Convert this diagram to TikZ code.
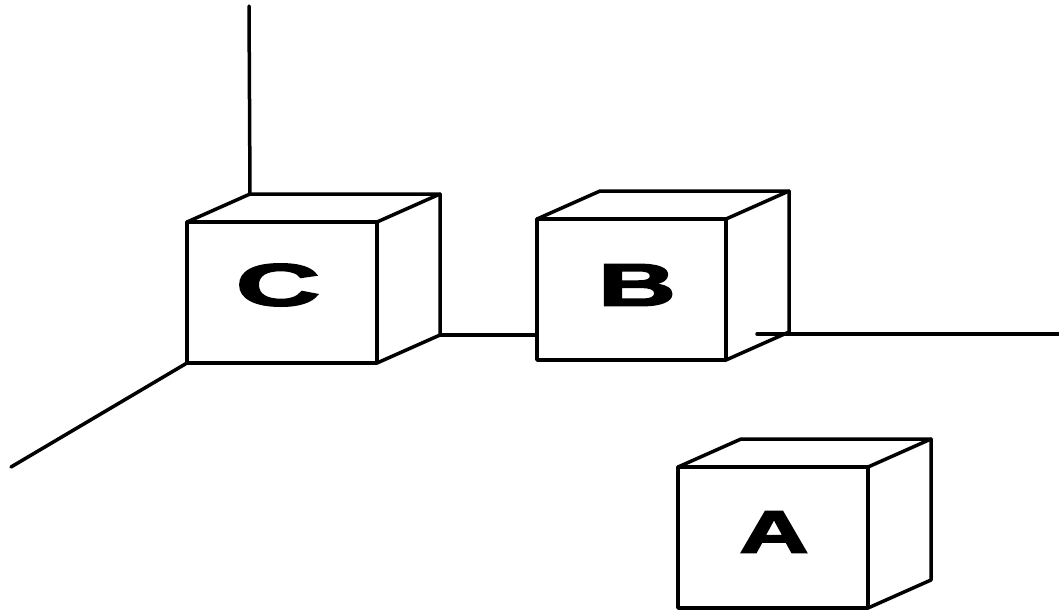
\documentclass[tikz,border=0pt]{standalone}
\usepackage{fontspec}
\setmainfont{Liberation Sans}
\newfontfamily\heavyfont[FakeBold=2.5]{Liberation Sans Bold}
\tikzset{
  edge/.style={line width=3.5pt, line join=round, line cap=round},
  letter/.style={font=\fontsize{60}{60}\selectfont\heavyfont, inner sep=0pt}
}
\newcommand{\cubebox}[5]{% name, x, y (front top-left), w, h
  \coordinate (#1ftl) at (#2,#3);
  \coordinate (#1ftr) at ({#2+#4},#3);
  \coordinate (#1fbr) at ({#2+#4},{#3+#5});
  \coordinate (#1fbl) at (#2,{#3+#5});
  \coordinate (#1btl) at ({#2+63},{#3-28});
  \coordinate (#1btr) at ({#2+#4+63},{#3-28});
  \coordinate (#1bbr) at ({#2+#4+63},{#3+#5-28});
  \draw[edge] (#1ftl) -- (#1ftr) -- (#1fbr) -- (#1fbl) -- cycle;
  \draw[edge] (#1ftl) -- (#1btl) -- (#1btr) -- (#1ftr);
  \draw[edge] (#1btr) -- (#1bbr) -- (#1fbr);
}
\begin{document}
\begin{tikzpicture}[x=1pt,y=-1pt]
\useasboundingbox (0,0) rectangle (1059,613);
% cubes
\cubebox{c}{187}{222}{190}{141}
\cubebox{b}{537}{219}{189}{141}
\cubebox{a}{678}{467}{190}{141}
% axes
\coordinate (top) at (249,6);
\coordinate (floorend) at (11,467);
\coordinate (rightend) at (1059,334);
\coordinate (bstub) at (757,334);
\draw[edge] (cbtl) -- (top);
\draw[edge] (cfbl) -- (floorend);
\draw[edge] (cbbr) -- (bfbl |- cbbr);
\draw[edge] (bstub) -- (rightend);
% letters
\node[letter] (lc) at (278,285) {\scalebox{1.95}[1]{C}};
\node[letter] (lb) at (637,285) {\scalebox{1.8}[1]{B}};
\node[letter] (la) at (774,532) {\scalebox{1.6}[1]{A}};
\end{tikzpicture}
\end{document}
